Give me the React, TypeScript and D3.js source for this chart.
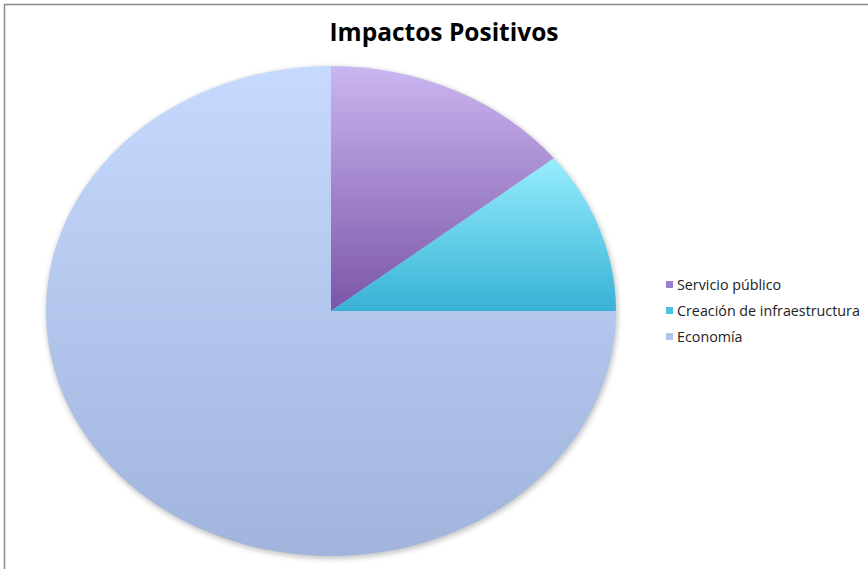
import React from "react";
import * as d3 from "d3";

const categories = ["Servicio público", "Creación de infraestructura", "Economía"];
const values = [4, 3, 21];
const gradTop = ["#cab6f0", "#96edfd", "#c6daff"];
const gradBottom = ["#7b55a8", "#37b2d5", "#a0b4dc"];
const legendColors = ["#9a7fcf", "#4cc3e0", "#b0c4ec"];

export default function App() {
  const W = 868, H = 569;
  const cx = 331, cy = 311, rx = 285, ry = 245;
  const pie = d3.pie<number>().sort(null).startAngle(0).endAngle(2 * Math.PI);
  const arcs = pie(values);
  const arc = d3.arc<d3.PieArcDatum<number>>().innerRadius(0).outerRadius(1);
  return (
    <svg width={W} height={H} style={{ position: "absolute", left: 0, top: 0 }}>
      <defs>
        {categories.map((c, i) => (
          <linearGradient key={c} id={`g${i}`} x1="0" y1="0" x2="0" y2="1">
            <stop offset="0" stopColor={gradTop[i]} />
            <stop offset="1" stopColor={gradBottom[i]} />
          </linearGradient>
        ))}
        <filter id="sh" x="-10%" y="-10%" width="120%" height="120%">
          <feGaussianBlur stdDeviation="2.5" />
        </filter>
      </defs>
      <rect x={0} y={0} width={W} height={H} fill="#fff" />
      <path d={`M4.5,${H} V4.5 H${W}`} fill="none" stroke="#8c8c8c" strokeWidth={1.5} />
      <text x={444} y={41} textAnchor="middle" fontFamily="Open Sans, sans-serif" fontWeight="bold" fontSize={24.5} fill="#000">
        Impactos Positivos
      </text>
      <ellipse cx={cx + 1} cy={cy + 2} rx={rx + 1} ry={ry + 1} fill="#9a9a9a" opacity={0.55} filter="url(#sh)" />
      <g transform={`translate(${cx},${cy}) scale(${rx},${ry})`}>
        {arcs.map((a, i) => (
          <path key={i} d={arc(a) || ""} fill={`url(#g${i})`} />
        ))}
      </g>
      {categories.map((c, i) => (
        <g key={c} transform={`translate(666,${285 + i * 26})`}>
          <rect x={0} y={-4} width={7} height={7} fill={legendColors[i]} />
          <text x={11} y={4.5} fontFamily="Open Sans, sans-serif" fontSize={14.3} fill="#222">
            {c}
          </text>
        </g>
      ))}
    </svg>
  );
}
